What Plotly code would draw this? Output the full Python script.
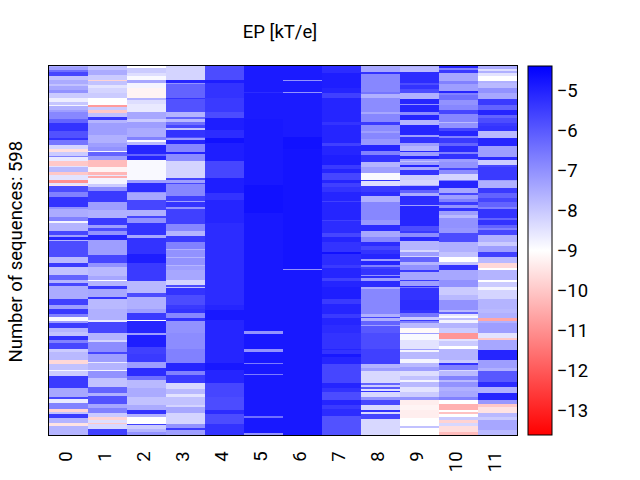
import numpy as np
import plotly.graph_objects as go

N_SEQUENCES = 598
READ_UNITS = 1107  # bands were read at this vertical resolution, then scaled to sequences
positions = ["0", "1", "2", "3", "4", "5", "6", "7", "8", "9", "10", "11"]

# (end of band, EP value)
col_0 = [(4,-7.3),(12,-7.0),(18,-6.2),(32,-5.5),(42,-7.8),(54,-7.3),(62,-7.8),(72,-7.2),(82,-6.8),(97,-8.0),(107,-8.7),(117,-7.9),(120,-8.8),(132,-7.4),(137,-7.0),(160,-6.6),(172,-6.0),(194,-5.2),(217,-5.7),(222,-5.2),(237,-6.3),(250,-8.2),(257,-9.6),(270,-8.0),(274,-6.5),(285,-8.6),(300,-10.0),(304,-8.5),(317,-7.6),(327,-10),(340,-8.5),(352,-11),(358,-8.5),(360,-9.5),(377,-5.6),(392,-6.5),(422,-5.2),(427,-6.8),(452,-7.3),(465,-6.5),(472,-8.8),(497,-7.5),(507,-5.5),(512,-7),(522,-5),(525,-7.5),(572,-5.6),(592,-7.6),(602,-5.3),(627,-7.8),(642,-6),(649,-7.5),(659,-5.5),(697,-7.3),(717,-5.4),(729,-7),(744,-5.3),(752,-6.5),(764,-8.9),(770,-7),(784,-5.3),(797,-7.5),(810,-7.8),(822,-5.2),(832,-6.5),(850,-5.5),(857,-8),(882,-7.6),(894,-9.7),(910,-7.8),(917,-8.8),(932,-8),(967,-5.3),(994,-7.2),(1000,-5.5),(1010,-8.6),(1030,-6.5),(1037,-9.8),(1044,-7.8),(1057,-5.3),(1070,-7.5),(1082,-9.5),(1107,-7.5)]
col_1 = [(12,-7.8),(27,-7.3),(40,-8),(47,-9.8),(57,-7.8),(67,-8.5),(82,-8.2),(97,-8),(117,-9),(123,-10.8),(134,-8),(140,-10),(152,-7.8),(162,-5.3),(172,-7.5),(207,-7),(232,-7.4),(242,-7),(254,-6.8),(260,-8.8),(270,-6),(282,-7),(302,-10.2),(317,-9.2),(327,-10.3),(332,-8.6),(337,-10.5),(354,-8.8),(362,-8),(375,-6.7),(407,-5.3),(432,-7),(457,-7.4),(477,-5.3),(485,-7),(497,-5.6),(507,-6.8),(522,-5),(567,-7),(592,-5.5),(602,-6.8),(632,-7.6),(642,-7.2),(645,-9),(659,-7.5),(669,-5.3),(692,-7.2),(699,-5.2),(729,-7.6),(760,-7.4),(768,-8.6),(802,-5.5),(822,-7.5),(827,-8.2),(857,-6.7),(864,-5.5),(887,-7),(892,-8.6),(912,-7.5),(917,-8.8),(937,-6.8),(964,-7.8),(982,-6),(990,-7.4),(1012,-5.7),(1027,-7.2),(1042,-6.5),(1054,-8),(1060,-9.8),(1070,-8.4),(1074,-10),(1090,-8.3),(1107,-5.4)]
col_2 = [(7,-9),(20,-8),(32,-8.4),(40,-8.9),(52,-7.2),(67,-8.8),(97,-9.2),(102,-7.5),(112,-8.4),(137,-8.6),(160,-7.2),(167,-8),(187,-7),(212,-7.3),(222,-6.5),(227,-8.9),(237,-7.6),(262,-5),(270,-6),(282,-5),(340,-8.9),(352,-7),(377,-5.1),(382,-6.8),(402,-7.2),(432,-5.5),(449,-7.4),(457,-5.5),(472,-6.8),(507,-5.2),(515,-7.2),(562,-5.2),(592,-4.9),(645,-5.3),(682,-7.6),(692,-5.6),(729,-7.4),(740,-7),(760,-5.3),(767,-9),(800,-5),(807,-7),(844,-4.9),(862,-5.4),(887,-5.3),(907,-7),(932,-5.1),(942,-6.2),(967,-7.6),(994,-7.3),(1017,-7.8),(1032,-7.3),(1044,-5.2),(1054,-7.4),(1074,-9),(1078,-5.4),(1090,-8),(1097,-7.5),(1107,-6.8)]
col_3 = [(42,-8.2),(50,-5),(54,-6.8),(97,-6),(100,-5.2),(137,-5.7),(152,-7.5),(160,-6),(167,-7.6),(177,-6.2),(187,-5.5),(190,-7.8),(212,-5.2),(217,-5.7),(222,-7),(234,-5),(257,-6.6),(262,-5),(285,-6.7),(335,-8.2),(342,-5.5),(350,-7),(354,-5.5),(390,-6.6),(405,-5.4),(407,-7),(422,-5.2),(429,-6.8),(474,-5.4),(497,-6.6),(509,-7.5),(527,-5.3),(549,-6.5),(552,-7.4),(572,-6.8),(575,-7.5),(597,-6.8),(600,-7.5),(612,-7),(642,-7.2),(657,-8.2),(662,-5.6),(667,-7.8),(687,-5.2),(717,-5.6),(729,-5.3),(742,-5.2),(757,-6.6),(767,-5.2),(802,-6.8),(850,-6.7),(892,-6.5),(917,-5),(927,-6.5),(950,-5.3),(970,-8.3),(984,-7.6),(994,-8.5),(1017,-7.8),(1024,-8.2),(1042,-7.2),(1074,-8.2),(1084,-6.8),(1092,-5.3),(1107,-7)]
col_4 = [(42,-5.6),(52,-4.9),(97,-5.2),(137,-5.3),(157,-5.6),(192,-4.9),(217,-5.1),(232,-4.7),(285,-4.9),(335,-5.5),(352,-4.9),(382,-4.9),(402,-5.2),(472,-5),(717,-5.1),(732,-5.0),(762,-4.8),(802,-5),(892,-5),(912,-4.8),(950,-5),(994,-5.5),(1032,-5.6),(1044,-5.1),(1074,-5.6),(1107,-5.2)]
col_5 = [(40,-4.85),(42,-5.1),(78,-4.85),(80,-5.1),(160,-4.85),(357,-4.8),(440,-4.7),(795,-4.8),(804,-6.8),(850,-4.8),(857,-6.8),(892,-4.8),(894,-6.4),(924,-4.8),(926,-6.4),(1052,-4.8),(1055,-6.2),(1102,-4.8),(1107,-6.8)]
col_6 = [(42,-4.85),(44,-6.8),(78,-4.85),(80,-6.8),(212,-4.85),(250,-4.7),(609,-4.75),(611,-6.8),(1107,-4.8)]
col_7 = [(22,-5.1),(67,-4.9),(82,-5),(97,-5.4),(167,-5),(177,-5.2),(232,-5),(240,-5.4),(267,-5),(297,-4.9),(310,-5.3),(322,-5),(342,-5.5),(352,-5),(362,-5.4),(379,-5.2),(405,-5),(407,-5.4),(462,-5),(465,-5.4),(502,-5.1),(512,-5.5),(527,-5),(557,-5.2),(565,-4.7),(597,-5.1),(607,-5.3),(637,-5),(645,-5.4),(662,-5),(697,-4.9),(712,-5.3),(732,-5),(744,-5),(757,-5.3),(777,-5),(802,-5.1),(847,-5.2),(854,-5),(862,-5.2),(874,-4.8),(894,-5),(922,-5.5),(952,-5.5),(967,-5),(980,-5.2),(1004,-5.6),(1017,-5),(1030,-5.3),(1052,-5.1),(1107,-5.7)]
col_8 = [(17,-7.2),(24,-5.2),(77,-6.6),(85,-6.3),(97,-7.4),(137,-6.7),(142,-7.2),(167,-6.6),(177,-5.3),(197,-6.7),(202,-7),(220,-6.6),(237,-6.9),(254,-5),(267,-6.5),(287,-5.2),(302,-7.5),(322,-7),(340,-8.9),(347,-5.2),(360,-8.4),(377,-5.3),(390,-5.1),(407,-7.4),(462,-6.6),(475,-6.9),(477,-7.5),(497,-5.1),(512,-7.2),(527,-6.6),(539,-5.1),(552,-5.5),(562,-5.2),(577,-5),(585,-7),(597,-5),(602,-6.5),(609,-5.4),(625,-5.2),(629,-6.8),(635,-5.1),(645,-7),(662,-5.1),(669,-7.3),(742,-6.6),(744,-6.6),(754,-7.4),(757,-5.5),(767,-7.4),(777,-6),(780,-7),(802,-5.8),(847,-5.6),(894,-5.4),(907,-7.5),(917,-7),(950,-8.3),(957,-6),(964,-8),(970,-5.8),(974,-8.4),(980,-5.2),(994,-8.3),(1004,-6.8),(1017,-5.5),(1032,-8.3),(1037,-5.2),(1044,-8.3),(1059,-5.5),(1107,-8.3)]
col_9 = [(4,-7.3),(17,-7.6),(52,-5.1),(57,-5.6),(70,-5.2),(82,-5.6),(99,-7.4),(112,-5),(117,-6.8),(137,-5),(147,-6.7),(162,-5),(177,-7.5),(207,-5),(212,-7),(232,-5.2),(240,-7),(254,-7.5),(260,-5),(270,-7),(277,-5),(285,-7),(289,-7.8),(297,-7),(304,-5),(312,-7.2),(325,-5.2),(340,-8),(357,-8.3),(360,-7.5),(372,-5.2),(382,-6),(390,-7.3),(417,-5.1),(420,-7),(482,-5),(497,-5.6),(502,-5.3),(512,-6.7),(525,-5.1),(552,-7.5),(557,-8.3),(570,-7),(574,-8.2),(589,-6),(597,-7.5),(612,-6.8),(619,-5.3),(642,-7.2),(645,-5.3),(659,-7),(662,-5),(667,-6.3),(702,-5.2),(732,-5.1),(742,-5.2),(754,-6.3),(760,-8),(767,-5.3),(772,-6.5),(787,-7.6),(800,-9.1),(804,-7),(822,-8.9),(847,-8.5),(852,-7),(857,-8.8),(880,-7.6),(890,-8.8),(902,-7.6),(917,-7),(930,-8.4),(942,-7.8),(947,-8.8),(964,-7.6),(977,-8.5),(994,-8),(1004,-6.8),(1017,-9.3),(1032,-9.2),(1057,-9.3),(1080,-9),(1087,-7.8),(1107,-9)]
col_10 = [(7,-5),(12,-6.5),(22,-5.3),(47,-7.2),(54,-6.5),(74,-7),(82,-5),(87,-6.5),(102,-6.2),(117,-6.8),(132,-6.6),(142,-5.5),(167,-6.6),(172,-7.6),(187,-6.8),(197,-5.5),(210,-5),(214,-6.5),(232,-5.3),(240,-6),(257,-5.1),(262,-6.5),(280,-5.2),(287,-7),(307,-6.8),(312,-5.5),(324,-6.7),(340,-8.2),(344,-6.5),(352,-5),(367,-5),(382,-7.2),(387,-5.5),(399,-7),(407,-6.5),(409,-7.5),(419,-5.3),(425,-6.8),(435,-5.2),(447,-7),(457,-7.6),(487,-6.8),(502,-6.9),(527,-5.6),(557,-7.4),(572,-7.8),(587,-9),(597,-7.8),(612,-5.2),(642,-7.2),(662,-6.8),(687,-8),(702,-7.6),(732,-6.8),(737,-7.6),(744,-6),(750,-8.5),(757,-8.9),(762,-7.7),(772,-8.8),(787,-7.5),(802,-8),(820,-10.9),(824,-8.5),(840,-8),(847,-9),(882,-7.5),(892,-8),(897,-5.2),(912,-6.5),(917,-8.3),(932,-7.6),(942,-6.5),(947,-7.6),(964,-6.8),(974,-7.4),(994,-7.2),(1004,-6.5),(1014,-9),(1032,-10.4),(1037,-9),(1044,-10.1),(1054,-9),(1060,-8),(1070,-9.8),(1082,-8.3),(1097,-9.6),(1107,-10.2)]
col_11 = [(10,-7.3),(14,-8.4),(20,-7.4),(30,-8.5),(44,-9),(50,-7.4),(67,-7.6),(82,-6.8),(100,-7.2),(117,-5.3),(132,-6),(147,-5),(157,-6),(172,-5.6),(182,-5.3),(197,-5.2),(217,-7.6),(240,-5),(272,-7),(282,-5.1),(297,-8),(304,-5.5),(342,-5.3),(347,-7),(365,-7.4),(382,-5.3),(397,-6),(407,-5.5),(422,-6),(427,-6.5),(457,-5.2),(462,-6),(475,-5.2),(485,-6),(492,-6.5),(507,-5.5),(527,-7.4),(540,-8),(557,-7),(572,-5.4),(592,-7.6),(605,-9.7),(612,-9),(642,-7.5),(647,-9),(662,-8),(672,-8.8),(697,-8.2),(729,-7.5),(742,-7.6),(757,-7.4),(767,-10.6),(772,-7.4),(802,-7),(817,-8.5),(822,-10),(852,-7.2),(882,-5),(907,-7),(917,-7.4),(947,-5.8),(962,-5.1),(982,-7.4),(1002,-5),(1012,-6.9),(1024,-10),(1042,-9.5),(1054,-7.6),(1062,-8),(1092,-7.2),(1107,-7.6)]

columns = [col_0, col_1, col_2, col_3, col_4, col_5, col_6, col_7, col_8, col_9, col_10, col_11]

# my colour reading of the blues ran slightly dark: correction of read values
CAL_READ = [-13.6, -8.3, -7.0, -5.3, -4.7, -4.4]
CAL_TRUE = [-13.6, -8.3, -7.25, -5.45, -4.7, -4.4]


def expand(bands):
    ends = np.array([b[0] for b in bands], dtype=float)
    vals = np.array([b[1] for b in bands], dtype=float)
    idx = (np.arange(N_SEQUENCES) + 0.5) * READ_UNITS / N_SEQUENCES
    return vals[np.clip(np.searchsorted(ends, idx), 0, len(vals) - 1)]


z = np.interp(np.column_stack([expand(c) for c in columns]), CAL_READ, CAL_TRUE)

FONT = "Roboto"
TEXT_SIZE = 18.5
fig = go.Figure(
    go.Heatmap(
        z=z,
        x=positions,
        y=np.arange(N_SEQUENCES),
        zmin=-13.6,
        zmax=-4.4,
        colorscale=[[0, "rgb(255,0,0)"], [0.5, "rgb(255,255,255)"], [1, "rgb(0,0,255)"]],
        colorbar=dict(
            x=(528 - 49) / 468,
            xanchor="left",
            xpad=0,
            ypad=0,
            y=0.5,
            yanchor="middle",
            len=1,
            thickness=24,
            outlinecolor="black",
            outlinewidth=1,
            tickvals=[-5, -6, -7, -8, -9, -10, -11, -12, -13],
            ticks="",
            ticklen=0,
            tickfont=dict(family=FONT, size=TEXT_SIZE, color="black"),
        ),
    )
)
fig.update_layout(
    width=640,
    height=480,
    autosize=False,
    margin=dict(l=49, r=123, t=66, b=45),
    paper_bgcolor="white",
    plot_bgcolor="white",
    font=dict(family=FONT, color="black"),
    title=dict(text="EP [kT/e]", x=280 / 640, xanchor="center", y=1 - 32 / 480, yanchor="middle",
               font=dict(family=FONT, size=TEXT_SIZE, color="black")),
    xaxis=dict(type="category", tickangle=-90, ticks="", showgrid=False, mirror=True, showline=True, automargin=False,
               linecolor="black", linewidth=1, ticklabelstandoff=8, ticklabelshift=-3,
               tickfont=dict(family=FONT, size=TEXT_SIZE, color="black")),
    yaxis=dict(autorange="reversed", showticklabels=False, ticks="", showgrid=False, mirror=True, showline=True,
               automargin=False, linecolor="black", linewidth=1, zeroline=False),
    annotations=[dict(text="Number of sequences: 598", xref="paper", yref="paper", x=-34 / 468, y=0.5 - 1 / 369,
                      xanchor="center", yanchor="middle", textangle=-90, showarrow=False,
                      font=dict(family=FONT, size=TEXT_SIZE, color="black"))],
)
fig.write_html("out.html", config={"displayModeBar": False}, post_script="document.body.style.margin='0';")
